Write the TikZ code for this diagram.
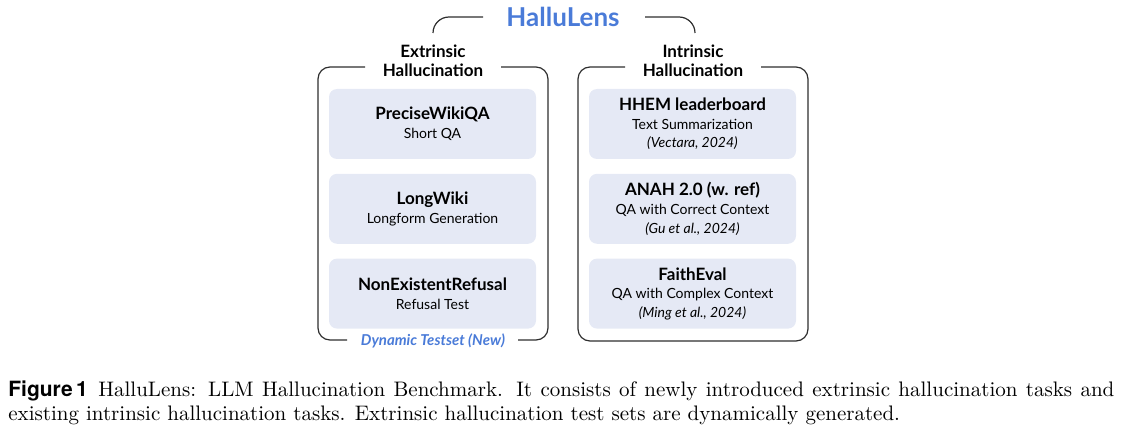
\documentclass[tikz,border=0pt]{standalone}
\usepackage{fontspec}
\usepackage{xcolor}
\usepackage{tikz}
\usetikzlibrary{positioning}
\newfontfamily\lato{Lato}
\newfontfamily\figfont{TeX Gyre Heros}
\definecolor{lensblue}{HTML}{4A7BD8}
\definecolor{taskfill}{HTML}{E5E9F5}
\definecolor{framegray}{HTML}{2E2E2E}
\newcommand{\tasktwo}[2]{{\fontsize{8.5}{9.3}\selectfont\bfseries #1}\\#2}
\newcommand{\taskthree}[3]{{\fontsize{8.5}{9.3}\selectfont\bfseries #1}\\#2\\\textit{#3}}

\begin{document}
\begin{tikzpicture}[x=0.5pt, y=-0.5pt,
	task/.style={fill=taskfill, rounded corners=4pt, inner ysep=1pt, minimum width=103.5pt, minimum height=35pt, align=center, font=\lato\fontsize{7}{9.3}\selectfont},
	head/.style={align=center, font=\lato\bfseries\fontsize{8.5}{9.5}\selectfont},
	frame/.style={draw=framegray, line width=0.6pt, rounded corners=6pt}]
		\useasboundingbox (0,0) rectangle (1125,444);
		% title and brackets
		\node[font=\lato\bfseries\fontsize{13}{15}\selectfont, text=lensblue] (lens) at (563,17) {HalluLens};
		\draw[frame, rounded corners=8pt] (483,17) -- (433,17) -- (433,33);
		\draw[frame, rounded corners=8pt] (645,17) -- (695,17) -- (695,33);
		% extrinsic column
		\node[head] (ext) at (433,61) {Extrinsic\\Hallucination};
		\draw[frame] (365,67) -- (318,67) -- (318,340) -- (347,340);
		\draw[frame] (518,340) -- (548,340) -- (548,67) -- (501,67);
		\node[task] (pwqa) at (432.5,124) {\tasktwo{PreciseWikiQA}{Short QA}};
		\node[task, below=7pt of pwqa] (lwiki) {\tasktwo{LongWiki}{Longform Generation}};
		\node[task, below=7pt of lwiki] (nref) {\tasktwo{NonExistentRefusal}{Refusal Test}};
		\node[font=\lato\bfseries\itshape\fontsize{7.5}{9}\selectfont, text=lensblue] (dyn) at (433,341) {Dynamic Testset (New)};
		% intrinsic column
		\node[head] (int) at (693,61) {Intrinsic\\Hallucination};
		\draw[frame] (625,67) -- (578,67) -- (578,341) -- (808,341) -- (808,67) -- (761,67);
		\node[task] (hhem) at (692.5,124) {\taskthree{HHEM leaderboard}{Text Summarization}{(Vectara, 2024)}};
		\node[task, below=7pt of hhem] (anah) {\taskthree{ANAH 2.0 (w. ref)}{QA with Correct Context}{(Gu et al., 2024)}};
		\node[task, below=7pt of anah] (feval) {\taskthree{FaithEval}{QA with Complex Context}{(Ming et al., 2024)}};
		% caption
		\node[anchor=north west, inner sep=0pt, text width=553pt, align=justify, font=\fontsize{10.5}{12}\selectfont] (cap) at (8,380) {{\figfont\bfseries Figure\,1}\enspace HalluLens: LLM Hallucination Benchmark. It consists of newly introduced extrinsic hallucination tasks and existing intrinsic hallucination tasks. Extrinsic hallucination test sets are dynamically generated.};
	\end{tikzpicture}
\end{document}
